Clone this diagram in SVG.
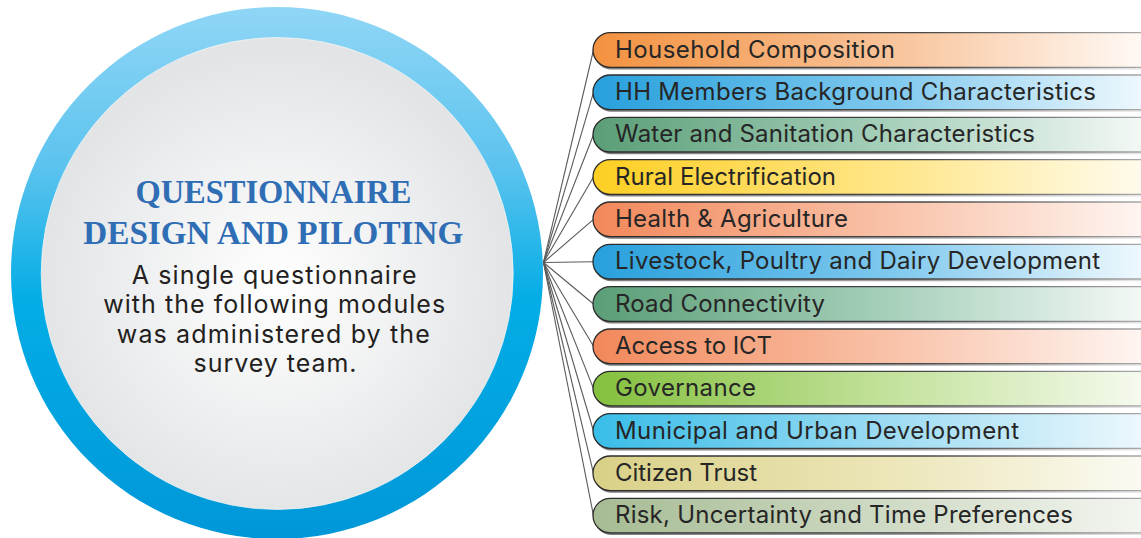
<svg xmlns="http://www.w3.org/2000/svg" width="1141" height="538" viewBox="0 0 1141 538">
<defs>
<linearGradient id="ring" x1="0" y1="7" x2="0" y2="539" gradientUnits="userSpaceOnUse">
<stop offset="0" stop-color="#90d6f6"/>
<stop offset="0.3" stop-color="#5cc3ee"/>
<stop offset="0.55" stop-color="#03ade6"/>
<stop offset="1" stop-color="#0097d8"/>
</linearGradient>
<radialGradient id="inner" cx="277" cy="285" r="236" gradientUnits="userSpaceOnUse">
<stop offset="0" stop-color="#ffffff"/>
<stop offset="0.6" stop-color="#eeeff0"/>
<stop offset="1" stop-color="#e2e4e5"/>
</radialGradient>
<linearGradient id="stk" x1="593" y1="0" x2="1141" y2="0" gradientUnits="userSpaceOnUse">
<stop offset="0" stop-color="#2a2a2a"/>
<stop offset="0.6" stop-color="#474747"/>
<stop offset="1" stop-color="#a8a8a8"/>
</linearGradient>
<linearGradient id="shd" x1="593" y1="0" x2="1141" y2="0" gradientUnits="userSpaceOnUse">
<stop offset="0" stop-color="#7a7a7a"/>
<stop offset="0.6" stop-color="#a5a5a5"/>
<stop offset="1" stop-color="#e6e6e6"/>
</linearGradient>
<linearGradient id="gOrange" x1="593" y1="0" x2="1141" y2="0" gradientUnits="userSpaceOnUse">
<stop offset="0" stop-color="#f3913f"/><stop offset="0.55" stop-color="#f8c49b"/><stop offset="1" stop-color="#fff9f4"/>
</linearGradient>
<linearGradient id="gBlue" x1="593" y1="0" x2="1141" y2="0" gradientUnits="userSpaceOnUse">
<stop offset="0" stop-color="#27a0dc"/><stop offset="0.55" stop-color="#80c9ee"/><stop offset="1" stop-color="#eef8fd"/>
</linearGradient>
<linearGradient id="gGreen" x1="593" y1="0" x2="1141" y2="0" gradientUnits="userSpaceOnUse">
<stop offset="0" stop-color="#5a9e77"/><stop offset="0.55" stop-color="#a8d1bc"/><stop offset="1" stop-color="#f3f8f5"/>
</linearGradient>
<linearGradient id="gYellow" x1="593" y1="0" x2="1141" y2="0" gradientUnits="userSpaceOnUse">
<stop offset="0" stop-color="#fdcf22"/><stop offset="0.55" stop-color="#ffe68a"/><stop offset="1" stop-color="#fffbec"/>
</linearGradient>
<linearGradient id="gSalmon" x1="593" y1="0" x2="1141" y2="0" gradientUnits="userSpaceOnUse">
<stop offset="0" stop-color="#f2885a"/><stop offset="0.55" stop-color="#f9c3aa"/><stop offset="1" stop-color="#fef5f1"/>
</linearGradient>
<linearGradient id="gLime" x1="593" y1="0" x2="1141" y2="0" gradientUnits="userSpaceOnUse">
<stop offset="0" stop-color="#84c03e"/><stop offset="0.55" stop-color="#c4e29d"/><stop offset="1" stop-color="#f5faee"/>
</linearGradient>
<linearGradient id="gCyan" x1="593" y1="0" x2="1141" y2="0" gradientUnits="userSpaceOnUse">
<stop offset="0" stop-color="#38bde8"/><stop offset="0.55" stop-color="#9fdcf3"/><stop offset="1" stop-color="#ecf8fd"/>
</linearGradient>
<linearGradient id="gKhaki" x1="593" y1="0" x2="1141" y2="0" gradientUnits="userSpaceOnUse">
<stop offset="0" stop-color="#d9d087"/><stop offset="0.55" stop-color="#ece6b9"/><stop offset="1" stop-color="#fbfaf2"/>
</linearGradient>
<linearGradient id="gSage" x1="593" y1="0" x2="1141" y2="0" gradientUnits="userSpaceOnUse">
<stop offset="0" stop-color="#a6bb93"/><stop offset="0.55" stop-color="#d0dbc6"/><stop offset="1" stop-color="#f3f5f0"/>
</linearGradient>
<path id="pill" d="M610.3,0 H1160 V34.6 H610.3 A17.3,17.3 0 0 1 610.3,0 Z"/>
</defs>
<style>
.shadow{fill:url(#shd);}
.bar{stroke:url(#stk);stroke-width:1.3;}
.lbl{font-family:Inter,"Liberation Sans",sans-serif;font-size:24px;fill:#262626;}
.title{font-family:"Liberation Serif",serif;font-weight:bold;font-size:34px;fill:#2f6db4;text-anchor:middle;}
.body{font-family:Inter,"Liberation Sans",sans-serif;font-size:25px;fill:#231f20;text-anchor:middle;}
.conn{stroke:#5a5a5a;stroke-width:1.1;fill:none;}
</style>
<rect x="0" y="0" width="1141" height="538" fill="#ffffff"/>

<g id="connectors">
<line class="conn" x1="543.5" y1="262.5" x2="593.5" y2="50.0"/>
<line class="conn" x1="543.5" y1="262.5" x2="593.5" y2="92.3"/>
<line class="conn" x1="543.5" y1="262.5" x2="593.5" y2="134.7"/>
<line class="conn" x1="543.5" y1="262.5" x2="593.5" y2="177.0"/>
<line class="conn" x1="543.5" y1="262.5" x2="593.5" y2="219.3"/>
<line class="conn" x1="543.5" y1="262.5" x2="593.5" y2="261.7"/>
<line class="conn" x1="543.5" y1="262.5" x2="593.5" y2="304.0"/>
<line class="conn" x1="543.5" y1="262.5" x2="593.5" y2="346.3"/>
<line class="conn" x1="543.5" y1="262.5" x2="593.5" y2="388.6"/>
<line class="conn" x1="543.5" y1="262.5" x2="593.5" y2="431.0"/>
<line class="conn" x1="543.5" y1="262.5" x2="593.5" y2="473.3"/>
<line class="conn" x1="543.5" y1="262.5" x2="593.5" y2="515.6"/>
</g>

<g id="center-circle">
<circle cx="277" cy="273" r="266" fill="url(#ring)"/>
<circle cx="277.2" cy="273.5" r="236" fill="url(#inner)" stroke="#f4f6f7" stroke-width="1" stroke-opacity="0.7"/>
<text class="title" x="273.4" y="203.3" textLength="276" lengthAdjust="spacingAndGlyphs">QUESTIONNAIRE</text>
<text class="title" x="273.3" y="244" textLength="380" lengthAdjust="spacingAndGlyphs">DESIGN AND PILOTING</text>
<text class="body" x="274.2" y="284" textLength="285" lengthAdjust="spacing">A single questionnaire</text>
<text class="body" x="274.2" y="313.4" textLength="342" lengthAdjust="spacing">with the following modules</text>
<text class="body" x="273.3" y="342.8" textLength="313" lengthAdjust="spacing">was administered by the</text>
<text class="body" x="275" y="372.2" textLength="163" lengthAdjust="spacing">survey team.</text>
</g>

<g id="m01" transform="translate(0,32.7)">
<use href="#pill" class="shadow" transform="translate(1.2,2.2)"/>
<use href="#pill" class="bar" fill="url(#gOrange)"/>
<text class="lbl" x="615" y="25" textLength="280" lengthAdjust="spacing">Household Composition</text>
</g>
<g id="m02" transform="translate(0,75.0)">
<use href="#pill" class="shadow" transform="translate(1.2,2.2)"/>
<use href="#pill" class="bar" fill="url(#gBlue)"/>
<text class="lbl" x="615" y="25" textLength="481" lengthAdjust="spacing">HH Members Background Characteristics</text>
</g>
<g id="m03" transform="translate(0,117.4)">
<use href="#pill" class="shadow" transform="translate(1.2,2.2)"/>
<use href="#pill" class="bar" fill="url(#gGreen)"/>
<text class="lbl" x="615" y="25" textLength="420" lengthAdjust="spacing">Water and Sanitation Characteristics</text>
</g>
<g id="m04" transform="translate(0,159.7)">
<use href="#pill" class="shadow" transform="translate(1.2,2.2)"/>
<use href="#pill" class="bar" fill="url(#gYellow)"/>
<text class="lbl" x="615" y="25" textLength="221" lengthAdjust="spacing">Rural Electrification</text>
</g>
<g id="m05" transform="translate(0,202.0)">
<use href="#pill" class="shadow" transform="translate(1.2,2.2)"/>
<use href="#pill" class="bar" fill="url(#gSalmon)"/>
<text class="lbl" x="615" y="25" textLength="233" lengthAdjust="spacing">Health &amp; Agriculture</text>
</g>
<g id="m06" transform="translate(0,244.4)">
<use href="#pill" class="shadow" transform="translate(1.2,2.2)"/>
<use href="#pill" class="bar" fill="url(#gBlue)"/>
<text class="lbl" x="615" y="25" textLength="485" lengthAdjust="spacing">Livestock, Poultry and Dairy Development</text>
</g>
<g id="m07" transform="translate(0,286.7)">
<use href="#pill" class="shadow" transform="translate(1.2,2.2)"/>
<use href="#pill" class="bar" fill="url(#gGreen)"/>
<text class="lbl" x="615" y="25" textLength="210" lengthAdjust="spacing">Road Connectivity</text>
</g>
<g id="m08" transform="translate(0,329.0)">
<use href="#pill" class="shadow" transform="translate(1.2,2.2)"/>
<use href="#pill" class="bar" fill="url(#gSalmon)"/>
<text class="lbl" x="615" y="25" textLength="157" lengthAdjust="spacing">Access to ICT</text>
</g>
<g id="m09" transform="translate(0,371.3)">
<use href="#pill" class="shadow" transform="translate(1.2,2.2)"/>
<use href="#pill" class="bar" fill="url(#gLime)"/>
<text class="lbl" x="615" y="25" textLength="141" lengthAdjust="spacing">Governance</text>
</g>
<g id="m10" transform="translate(0,413.7)">
<use href="#pill" class="shadow" transform="translate(1.2,2.2)"/>
<use href="#pill" class="bar" fill="url(#gCyan)"/>
<text class="lbl" x="615" y="25" textLength="404" lengthAdjust="spacing">Municipal and Urban Development</text>
</g>
<g id="m11" transform="translate(0,456.0)">
<use href="#pill" class="shadow" transform="translate(1.2,2.2)"/>
<use href="#pill" class="bar" fill="url(#gKhaki)"/>
<text class="lbl" x="615" y="25" textLength="142" lengthAdjust="spacing">Citizen Trust</text>
</g>
<g id="m12" transform="translate(0,498.3)">
<use href="#pill" class="shadow" transform="translate(1.2,2.2)"/>
<use href="#pill" class="bar" fill="url(#gSage)"/>
<text class="lbl" x="615" y="25" textLength="458" lengthAdjust="spacing">Risk, Uncertainty and Time Preferences</text>
</g>
</svg>
